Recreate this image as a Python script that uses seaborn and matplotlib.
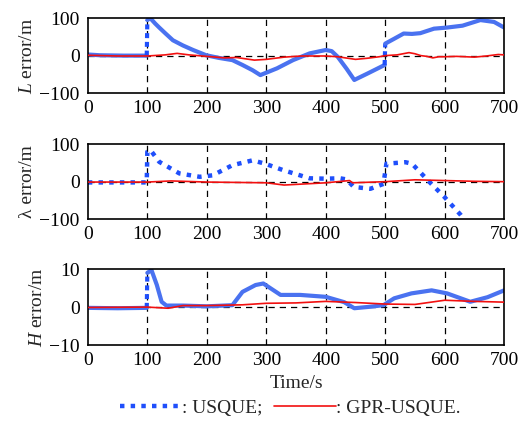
import numpy as np
import pandas as pd
import matplotlib
matplotlib.use("Agg")
import matplotlib.pyplot as plt
import seaborn as sns
from matplotlib.lines import Line2D

sns.set_theme(style="white")
plt.rcParams["font.family"] = ["Liberation Serif", "DejaVu Serif"]
plt.rcParams["mathtext.fontset"] = "custom"
plt.rcParams["mathtext.it"] = "Liberation Serif:italic"
plt.rcParams["mathtext.rm"] = "Liberation Serif"

# ---- L error (m) ----
L_usque_t = [0, 20, 60, 99, 100, 105, 113, 120, 130, 143, 160, 177, 199, 220, 243, 260, 277, 290,
             318, 345, 373, 400, 410, 420, 435, 448, 470, 499, 500, 515, 531, 545, 559,
             582, 604, 630, 660, 683, 700]
L_usque_v = [3, 1, 0, 0, 95, 100, 86, 75, 60, 41, 27, 15, 1, -6, -12, -25, -39, -52,
             -34, -12, 6, 15, 12, -3, -35, -65, -48, -25, 32, 45, 59, 58, 60,
             72, 75, 80, 95, 90, 75]
L_gpr_t = [0, 50, 100, 130, 150, 170, 200, 230, 250, 280, 300, 330, 360, 400, 420,
           450, 470, 490, 500, 520, 540, 550, 560, 570, 580, 590, 600, 620, 650, 670, 690, 700]
L_gpr_v = [1, -1, -1, 2, 6, 2, -2, -6, -5, -12, -10, -4, -1, -1, -3,
           -10, -7, -3, 0, 2, 8, 5, 0, -2, -6, -3, -3, -2, -4, -1, 3, 2]

# ---- lambda error (m) ----
lam_usque_t = [0, 50, 99, 100, 105, 120, 154, 188, 210, 243, 277, 298, 328, 373, 400,
               424, 435, 447, 475, 497, 502, 534, 545, 577, 599, 627, 660, 700]
lam_usque_v = [-2, -2, -2, 80, 85, 53, 22, 13, 17, 44, 57, 48, 31, 9, 8,
               9, 6, -14, -19, -6, 48, 52, 48, -5, -40, -89, -160, -240]
lam_gpr_t = [0, 100, 140, 200, 300, 330, 400, 440, 445, 500, 550, 600, 650, 700]
lam_gpr_v = [-1, -1, 2, -1, -3, -9, -3, 3, -3, 0, 5, 3, 1, 0]

# ---- H error (m) ----
H_usque_t = [0, 50, 99, 100, 107, 116, 124, 132, 160, 200, 243, 260, 282, 295, 324,
             357, 400, 431, 448, 475, 497, 515, 544, 578, 604, 643, 672, 700]
H_usque_v = [-0.2, -0.3, -0.2, 9.0, 9.7, 5.8, 1.4, 0.4, 0.4, 0.2, 0.5, 4.0, 5.8, 6.2, 3.2,
             3.2, 2.7, 1.3, -0.3, 0.1, 0.5, 2.3, 3.6, 4.4, 3.6, 1.4, 2.6, 4.4]
H_gpr_t = [0, 100, 135, 160, 200, 260, 300, 350, 400, 450, 500, 550, 600, 650, 700]
H_gpr_v = [-0.1, 0.0, -0.3, 0.4, 0.4, 0.6, 1.0, 1.1, 1.5, 1.2, 0.8, 0.7, 1.8, 1.5, 1.3]

x_ticks = [0, 100, 200, 300, 400, 500, 600, 700]
y_labels = ["$L$ error/m", "λ error/m", "$H$ error/m"]
y_ticks = [[-100, 0, 100], [-100, 0, 100], [-10, 0, 10]]

BLUE_THICK = "#4a72f0"
BLUE_DOT = "#1f4ffb"
RED = "#f21010"
FS = 14
DOTTED = (0, (1, 1.4))

fig = plt.figure(figsize=(5.23, 4.23), dpi=100)
positions = [[0.168, 0.780, 0.796, 0.177],
             [0.168, 0.482, 0.796, 0.177],
             [0.168, 0.184, 0.796, 0.180]]

series = [
    (L_usque_t, L_usque_v, L_gpr_t, L_gpr_v, "thick"),
    (lam_usque_t, lam_usque_v, lam_gpr_t, lam_gpr_v, "dot"),
    (H_usque_t, H_usque_v, H_gpr_t, H_gpr_v, "thick"),
]


def draw_thick(ax, t, v):
    """Solid thick trace; the instantaneous jumps (1 s steps) are shown dotted."""
    t = np.asarray(t, float)
    v = np.asarray(v, float)
    jumps = [k for k in range(1, len(t)) if t[k] - t[k - 1] <= 1]
    start = 0
    for k in jumps:
        seg = pd.DataFrame({"t": t[start:k], "v": v[start:k]})
        sns.lineplot(data=seg, x="t", y="v", ax=ax, color=BLUE_THICK, lw=3.0,
                     estimator=None, sort=False, zorder=2)
        step = pd.DataFrame({"t": t[k - 1:k + 1], "v": v[k - 1:k + 1]})
        sns.lineplot(data=step, x="t", y="v", ax=ax, color=BLUE_DOT, lw=3.0,
                     ls=(0, (1.2, 0.9)), estimator=None, sort=False, zorder=2)
        start = k
    seg = pd.DataFrame({"t": t[start:], "v": v[start:]})
    sns.lineplot(data=seg, x="t", y="v", ax=ax, color=BLUE_THICK, lw=3.0,
                 estimator=None, sort=False, zorder=2)


for i, (ut, uv, gt, gv, style) in enumerate(series):
    ax = fig.add_axes(positions[i])
    lo, hi = y_ticks[i][0], y_ticks[i][-1]
    # dashed verticals at each interior tick and a dashed zero line
    for xv in x_ticks[1:-1]:
        ax.axvline(xv, color="black", ls=(0, (5, 4)), lw=0.9, zorder=1)
    ax.axhline(0, color="black", ls=(0, (5, 4)), lw=0.9, zorder=1)

    if style == "thick":
        draw_thick(ax, ut, uv)
    else:
        du = pd.DataFrame({"t": ut, "v": uv})
        sns.lineplot(data=du, x="t", y="v", ax=ax, color=BLUE_DOT, lw=3.2,
                     ls=DOTTED, estimator=None, sort=False, zorder=2)
    dg = pd.DataFrame({"t": gt, "v": gv})
    sns.lineplot(data=dg, x="t", y="v", ax=ax, color=RED, lw=1.2,
                 estimator=None, sort=False, zorder=3)

    ax.set_xlim(0, 700)
    ax.set_ylim(lo, hi)
    ax.set_xticks(x_ticks)
    ax.set_yticks(y_ticks[i])
    ax.set_yticklabels([str(v).replace("-", "\u2212") for v in y_ticks[i]])
    ax.tick_params(axis="x", length=0, pad=5, labelsize=FS, colors="black")
    ax.tick_params(axis="y", length=0, pad=6, labelsize=FS, colors="black")
    ax.set_xlabel("Time/s" if i == 2 else "", fontsize=FS, labelpad=4)
    ax.set_ylabel(y_labels[i], fontsize=FS, labelpad=2)
    for sp in ax.spines.values():
        sp.set_color("black")
        sp.set_linewidth(1.2)

handles = [Line2D([], [], color=BLUE_DOT, lw=3.2, ls=DOTTED),
           Line2D([], [], color=RED, lw=1.2)]
fig.legend(handles, [": USQUE;", ": GPR-USQUE."], loc="center",
           bbox_to_anchor=(0.555, 0.035), ncol=2, frameon=False, fontsize=FS,
           handlelength=3.2, handletextpad=0.0, columnspacing=0.6)

fig.savefig("out.png", dpi=100)
